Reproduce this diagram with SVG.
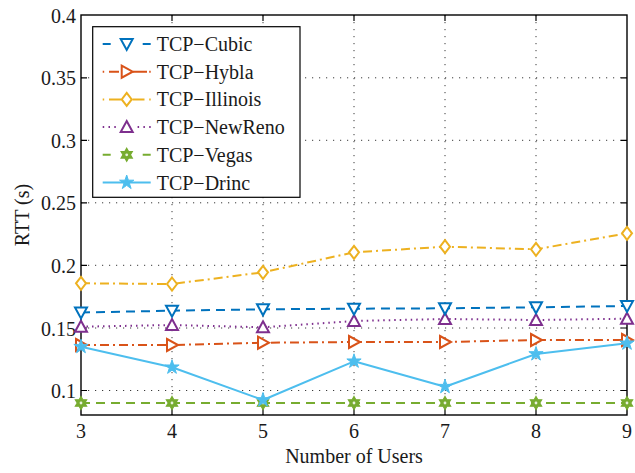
<svg xmlns="http://www.w3.org/2000/svg" width="635" height="473" viewBox="0 0 635 473" font-family="'Liberation Serif', 'DejaVu Serif', serif">
  <style>
    text { font-family: "Liberation Serif", "DejaVu Serif", serif; font-size: 20px; fill: #1a1a1a; }
    .ytick { text-anchor: end; }
    .xtick { text-anchor: middle; }
    .grid { stroke: #3a3a3a; stroke-width: 1; stroke-dasharray: 1.2 5.8; fill: none; }
    .axis { stroke: #000; stroke-width: 1.4; fill: none; }
    .tick { stroke: #000; stroke-width: 1.2; }
    .ln { fill: none; stroke-width: 2; stroke-linejoin: round; }
    .cubic { stroke: #0072BD; }
    .hybla { stroke: #D95319; }
    .illinois { stroke: #EDB120; }
    .newreno { stroke: #7E2F8E; }
    .vegas { stroke: #77AC30; }
    .drinc { stroke: #4DBEEE; }
    .dash { stroke-dasharray: 9 6; }
    .dashdot { stroke-dasharray: 9 4 2 4; }
    .dot { stroke-dasharray: 1.5 4; }
    .mk { fill: #fff; stroke-width: 2; stroke-linejoin: miter; }
    .mk-drinc { fill: #4DBEEE; stroke: #4DBEEE; stroke-width: 1; stroke-linejoin: round; }
    .legend-box { fill: #fff; stroke: #000; stroke-width: 1.2; }
  </style>
  <defs>
    <path id="m-down" d="M-6,-5 L6,-5 L0,6 Z"/>
    <path id="m-up" d="M0,-6 L6,5 L-6,5 Z"/>
    <path id="m-right" d="M-5,-6 L6,0 L-5,6 Z"/>
    <path id="m-diamond" d="M0,-6.5 L5,0 L0,6.5 L-5,0 Z"/>
    <!-- six-pointed star, solid green with a small light core -->
    <g id="m-hex">
      <path d="M0,-6.5 L1.875,-3.25 L5.63,-3.25 L3.75,0 L5.63,3.25 L1.875,3.25 L0,6.5 L-1.875,3.25 L-5.63,3.25 L-3.75,0 L-5.63,-3.25 L-1.875,-3.25 Z" fill="#77AC30" stroke="#77AC30" stroke-width="1.2" stroke-linejoin="miter"/>
      <circle r="1.4" fill="#e8f2dc" stroke="none"/>
    </g>
    <path id="m-star" d="M0,-7.5 L1.69,-2.32 L7.13,-2.32 L2.73,0.89 L4.41,6.07 L0,2.87 L-4.41,6.07 L-2.73,0.89 L-7.13,-2.32 L-1.69,-2.32 Z"/>
  </defs>

  <!-- dotted grid -->
  <g id="grid">
    <path class="grid" d="M172,15V415M263,15V415M354,15V415M445,15V415M536,15V415"/>
    <path class="grid" d="M81,390.5H627M81,328H627M81,265.3H627M81,202.8H627M81,140.3H627M81,77.8H627"/>
  </g>

  <!-- axes box -->
  <g id="axes">
    <rect class="axis" x="81" y="15" width="546" height="400"/>
    <path class="tick" d="M172,415v-6M263,415v-6M354,415v-6M445,415v-6M536,415v-6M172,15v6M263,15v6M354,15v6M445,15v6M536,15v6"/>
    <path class="tick" d="M81,390.5h6M81,328h6M81,265.3h6M81,202.8h6M81,140.3h6M81,77.8h6M627,390.5h-6M627,328h-6M627,265.3h-6M627,202.8h-6M627,140.3h-6M627,77.8h-6"/>
  </g>

  <!-- tick labels -->
  <g id="y-labels">
    <text class="ytick" x="76" y="22.5">0.4</text>
    <text class="ytick" x="76" y="85.3">0.35</text>
    <text class="ytick" x="76" y="147.8">0.3</text>
    <text class="ytick" x="76" y="210.3">0.25</text>
    <text class="ytick" x="76" y="272.8">0.2</text>
    <text class="ytick" x="76" y="335.5">0.15</text>
    <text class="ytick" x="76" y="398">0.1</text>
  </g>
  <g id="x-labels">
    <text class="xtick" x="81" y="438">3</text>
    <text class="xtick" x="172" y="438">4</text>
    <text class="xtick" x="263" y="438">5</text>
    <text class="xtick" x="354" y="438">6</text>
    <text class="xtick" x="445" y="438">7</text>
    <text class="xtick" x="536" y="438">8</text>
    <text class="xtick" x="627" y="438">9</text>
  </g>
  <text id="x-title" x="354" y="463" text-anchor="middle">Number of Users</text>
  <text id="y-title" transform="translate(29,215) rotate(-90)" text-anchor="middle">RTT (s)</text>

  <!-- data series -->
  <g id="series">
    <g id="s-vegas">
      <path class="ln vegas dash" d="M81,403H627"/>
      <use href="#m-hex" x="81" y="403"/><use href="#m-hex" x="172" y="403"/><use href="#m-hex" x="263" y="403"/><use href="#m-hex" x="354" y="403"/><use href="#m-hex" x="445" y="403"/><use href="#m-hex" x="536" y="403"/><use href="#m-hex" x="627" y="403"/>
    </g>
    <g id="s-illinois">
      <path class="ln illinois dashdot" d="M81,283.3L172,284L263,272.3L354,252.3L445,246.7L536,249.3L627,233.3"/>
      <g class="mk illinois">
        <use href="#m-diamond" x="81" y="283.3"/><use href="#m-diamond" x="172" y="284"/><use href="#m-diamond" x="263" y="272.3"/><use href="#m-diamond" x="354" y="252.3"/><use href="#m-diamond" x="445" y="246.7"/><use href="#m-diamond" x="536" y="249.3"/><use href="#m-diamond" x="627" y="233.3"/>
      </g>
    </g>
    <g id="s-newreno">
      <path class="ln newreno dot" d="M81,326.7L172,325L263,327.3L354,321L445,319L536,320L627,318.7"/>
      <g class="mk newreno">
        <use href="#m-up" x="81" y="326.7"/><use href="#m-up" x="172" y="325"/><use href="#m-up" x="263" y="327.3"/><use href="#m-up" x="354" y="321"/><use href="#m-up" x="445" y="319"/><use href="#m-up" x="536" y="320"/><use href="#m-up" x="627" y="318.7"/>
      </g>
    </g>
    <g id="s-cubic">
      <path class="ln cubic dash" d="M81,312.5L172,310.7L263,309.3L354,308.7L445,308.3L536,307.3L627,306"/>
      <g class="mk cubic">
        <use href="#m-down" x="81" y="312.5"/><use href="#m-down" x="172" y="310.7"/><use href="#m-down" x="263" y="309.3"/><use href="#m-down" x="354" y="308.7"/><use href="#m-down" x="445" y="308.3"/><use href="#m-down" x="536" y="307.3"/><use href="#m-down" x="627" y="306"/>
      </g>
    </g>
    <g id="s-hybla">
      <path class="ln hybla dashdot" d="M81,345L172,345L263,342.7L354,342L445,342L536,340L627,340"/>
      <g class="mk hybla">
        <use href="#m-right" x="81" y="345"/><use href="#m-right" x="172" y="345"/><use href="#m-right" x="263" y="342.7"/><use href="#m-right" x="354" y="342"/><use href="#m-right" x="445" y="342"/><use href="#m-right" x="536" y="340"/><use href="#m-right" x="627" y="340"/>
      </g>
    </g>
    <g id="s-drinc">
      <path class="ln drinc" d="M81,346.7L172,367.3L263,400L354,361.3L445,386.7L536,354L627,343.3"/>
      <g class="mk-drinc">
        <use href="#m-star" x="81" y="346.7"/><use href="#m-star" x="172" y="367.3"/><use href="#m-star" x="263" y="400"/><use href="#m-star" x="354" y="361.3"/><use href="#m-star" x="445" y="386.7"/><use href="#m-star" x="536" y="354"/><use href="#m-star" x="627" y="343.3"/>
      </g>
    </g>
  </g>

  <!-- legend -->
  <g id="legend">
    <rect class="legend-box" x="92.7" y="26.7" width="207.3" height="170.6"/>
    <g id="lg-cubic">
      <path class="ln cubic" d="M102.7,44h8M142.7,44h8"/>
      <use class="mk cubic" href="#m-down" x="126.7" y="44"/>
      <text x="156.7" y="51">TCP−Cubic</text>
    </g>
    <g id="lg-hybla">
      <path class="ln hybla" d="M102.7,71.7h1.5M109,71.7h10M133,71.7h14M149.2,71.7h1.5"/>
      <use class="mk hybla" href="#m-right" x="126.7" y="71.7"/>
      <text x="156.7" y="78.7">TCP−Hybla</text>
    </g>
    <g id="lg-illinois">
      <path class="ln illinois" d="M102.7,99.4h1.5M109,99.4h12M132.5,99.4h12M149.2,99.4h1.5"/>
      <use class="mk illinois" href="#m-diamond" x="126.7" y="99.4"/>
      <text x="156.7" y="106.4">TCP−Illinois</text>
    </g>
    <g id="lg-newreno">
      <path class="ln newreno" d="M102.7,127.1h1.5M108.5,127.1h1.5M114.3,127.1h1.5M137.6,127.1h1.5M143.4,127.1h1.5M149.2,127.1h1.5"/>
      <use class="mk newreno" href="#m-up" x="126.7" y="127.1"/>
      <text x="156.7" y="134.1">TCP−NewReno</text>
    </g>
    <g id="lg-vegas">
      <path class="ln vegas" d="M102.7,154.8h8M142.7,154.8h8"/>
      <use href="#m-hex" x="126.7" y="154.8"/>
      <text x="156.7" y="161.8">TCP−Vegas</text>
    </g>
    <g id="lg-drinc">
      <path class="ln drinc" d="M102.7,182.5H150.7"/>
      <use class="mk-drinc" href="#m-star" x="126.7" y="182.5"/>
      <text x="156.7" y="189.5">TCP−Drinc</text>
    </g>
  </g>
</svg>
